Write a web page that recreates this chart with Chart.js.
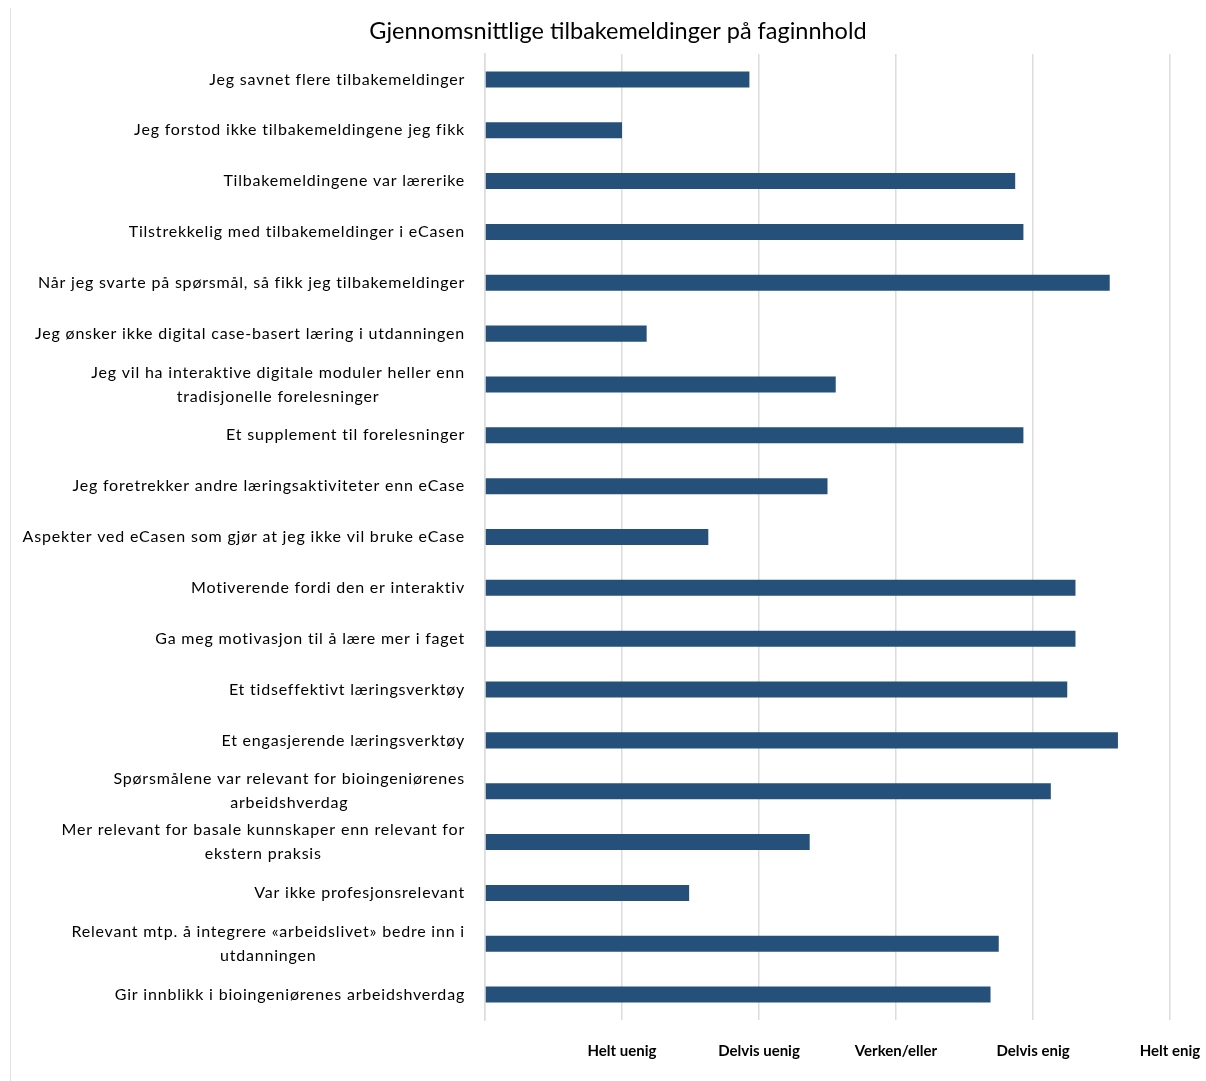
<!DOCTYPE html>
<html>
<head>
<meta charset="utf-8">
<script src="https://cdn.jsdelivr.net/npm/chart.js@4/dist/chart.umd.min.js"></script>
<style>
  html, body { margin: 0; padding: 0; background: #fff; }
  #wrap { position: relative; width: 1206px; height: 1081px; }
  #frame { position: absolute; left: 10px; top: 8px; width: 1px; height: 1073px; background: #e2e2e2; }
  canvas { position: absolute; left: 0; top: 0; }
</style>
</head>
<body>
<div id="wrap">
  <canvas id="c" width="1206" height="1081"></canvas>
  <div id="frame"></div>
</div>
<script>
const chartTitle = 'Gjennomsnittlige tilbakemeldinger på faginnhold';

const categories = [
  'Jeg savnet flere tilbakemeldinger',
  'Jeg forstod ikke tilbakemeldingene jeg fikk',
  'Tilbakemeldingene var lærerike',
  'Tilstrekkelig med tilbakemeldinger i eCasen',
  'Når jeg svarte på spørsmål, så fikk jeg tilbakemeldinger',
  'Jeg ønsker ikke digital case-basert læring i utdanningen',
  ['Jeg vil ha interaktive digitale moduler heller enn', 'tradisjonelle forelesninger'],
  'Et supplement til forelesninger',
  'Jeg foretrekker andre læringsaktiviteter enn eCase',
  'Aspekter ved eCasen som gjør at jeg ikke vil bruke eCase',
  'Motiverende fordi den er interaktiv',
  'Ga meg motivasjon til å lære mer i faget',
  'Et tidseffektivt læringsverktøy',
  'Et engasjerende læringsverktøy',
  ['Spørsmålene var relevant for bioingeniørenes', 'arbeidshverdag'],
  ['Mer relevant for basale kunnskaper enn relevant for', 'ekstern praksis'],
  'Var ikke profesjonsrelevant',
  ['Relevant mtp. å integrere «arbeidslivet» bedre inn i', 'utdanningen'],
  'Gir innblikk i bioingeniørenes arbeidshverdag'
];

const values = [1.93, 1.00, 3.87, 3.93, 4.56, 1.18, 2.56, 3.93, 2.50, 1.63,
                4.31, 4.31, 4.25, 4.62, 4.13, 2.37, 1.49, 3.75, 3.69];

const scaleLabels = ['', 'Helt uenig', 'Delvis uenig', 'Verken/eller', 'Delvis enig', 'Helt enig'];

const FONT = 'Lato, "Open Sans", sans-serif';
const GRID = '#dcdcdc';

const labelPlugin = {
  id: 'customLabels',
  afterDraw(chart) {
    const ctx = chart.ctx;
    const yScale = chart.scales.y;
    ctx.save();
    ctx.fillStyle = '#000';
    ctx.textAlign = 'center';
    ctx.textBaseline = 'middle';
    // Title
    ctx.font = '23.5px ' + FONT;
    ctx.letterSpacing = '0px';
    ctx.fillText(chartTitle, 618, 31);
    // Category labels
    ctx.font = '16px ' + FONT;
    ctx.letterSpacing = '0.8px';
    const right = 465;
    const lh = 24;
    chart.data.labels.forEach((lab, i) => {
      const lines = Array.isArray(lab) ? lab : [lab];
      const cy = yScale.getPixelForValue(i);
      const maxW = Math.max(...lines.map(l => ctx.measureText(l).width));
      const cx = right - maxW / 2;
      lines.forEach((line, j) => {
        ctx.fillText(line, cx, cy + (j - (lines.length - 1) / 2) * lh);
      });
    });
    ctx.restore();
  }
};

new Chart(document.getElementById('c'), {
  type: 'bar',
  data: {
    labels: categories,
    datasets: [{
      data: values,
      backgroundColor: '#24507A',
      borderWidth: 0,
      barPercentage: 0.315,
      categoryPercentage: 1.0
    }]
  },
  options: {
    indexAxis: 'y',
    responsive: false,
    animation: false,
    devicePixelRatio: 1,
    layout: { padding: { top: 54, right: 36, bottom: 0, left: 0 } },
    plugins: {
      legend: { display: false },
      title: { display: false },
      tooltip: { enabled: false }
    },
    scales: {
      x: {
        min: 0,
        max: 5,
        afterFit(scale) {
          scale.height = 61;
          scale.paddingLeft = 0;
          scale.paddingRight = 0;
        },
        ticks: {
          stepSize: 1,
          autoSkip: false,
          maxRotation: 0,
          padding: 22,
          color: '#000',
          font: { family: FONT, size: 15, weight: 'bold' },
          callback: (v) => scaleLabels[v] ?? ''
        },
        grid: { color: GRID, lineWidth: 1.5, drawTicks: false },
        border: { display: false }
      },
      y: {
        afterFit(scale) {
          scale.width = 485;
          scale.paddingTop = 0;
          scale.paddingBottom = 0;
        },
        ticks: { display: false },
        grid: { display: false, drawTicks: false },
        border: { display: true, color: GRID, width: 1.5 }
      }
    }
  },
  plugins: [labelPlugin]
});
</script>
</body>
</html>
